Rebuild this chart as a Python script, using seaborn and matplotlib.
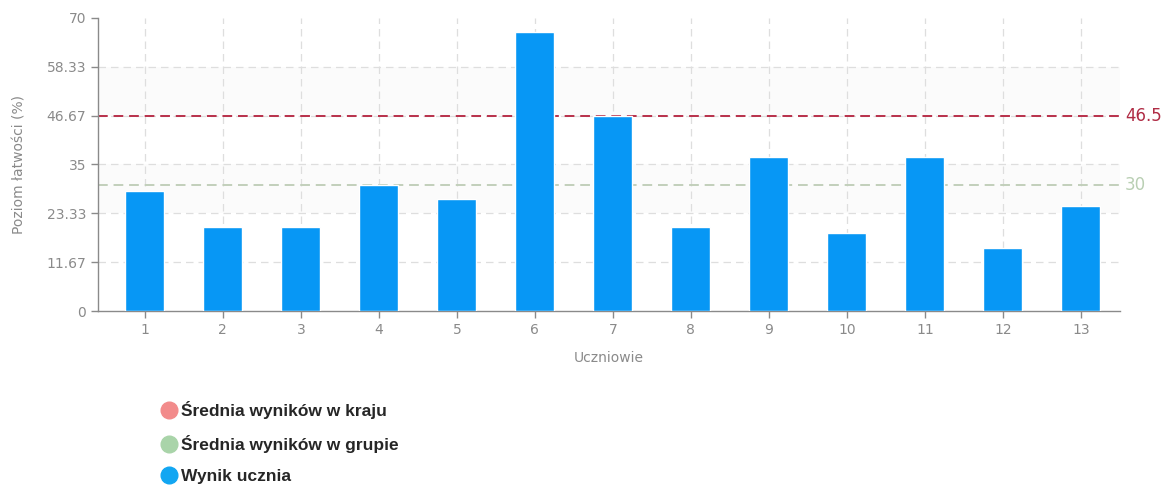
import matplotlib
matplotlib.use("Agg")
import matplotlib.pyplot as plt
from matplotlib.lines import Line2D
import numpy as np
import pandas as pd
import seaborn as sns

# dane
uczniowie = ["1", "2", "3", "4", "5", "6", "7", "8", "9", "10", "11", "12", "13"]
wyniki = [28.6, 20.0, 20.0, 30.0, 26.7, 66.7, 46.7, 20.0, 36.7, 18.6, 36.7, 15.0, 25.0]
srednia_kraj = 46.5
srednia_grupa = 30
y_ticks = [0, 11.67, 23.33, 35, 46.67, 58.33, 70]
legend_labels = ["Średnia wyników w kraju", "Średnia wyników w grupie", "Wynik ucznia"]

sns.set_style("white")
plt.rcParams["font.family"] = ["DejaVu Sans"]

df = pd.DataFrame({"uczen": uczniowie, "wynik": wyniki})

fig = plt.figure(figsize=(11.72, 4.95), dpi=100)
ax = fig.add_axes([0.0836, 0.3717, 0.872, 0.592])

# delikatne pasy tła
ax.axhspan(y_ticks[2], y_ticks[3], color="#fbfbfb", zorder=0, lw=0)
ax.axhspan(y_ticks[4], y_ticks[5], color="#fbfbfb", zorder=0, lw=0)

sns.barplot(data=df, x="uczen", y="wynik", color="#0797f5", width=0.5,
            saturation=1, ax=ax, zorder=3)

ax.set_xlim(-0.6, 12.5)
ax.set_ylim(0, 70)
ax.set_yticks(y_ticks)
ax.set_yticklabels([f"{t:g}" for t in y_ticks])

grid_kw = dict(color="#dedede", lw=0.9, ls=(0, (6, 4)), zorder=1)
for t in y_ticks[1:-1]:
    ax.axhline(t, **grid_kw)
for i in range(len(uczniowie)):
    ax.axvline(i, **grid_kw)

# linie średnich
ax.axhline(srednia_kraj, color="#b8304a", lw=1.4, ls=(0, (5, 3)), zorder=2)
ax.axhline(srednia_grupa, color="#c2cfbb", lw=1.4, ls=(0, (5, 3)), zorder=2)
ax.text(1.005, srednia_kraj, f"{srednia_kraj:g}", transform=ax.get_yaxis_transform(),
        color="#b02c45", fontsize=12, va="center", ha="left")
ax.text(1.005, srednia_grupa, f"{srednia_grupa:g}", transform=ax.get_yaxis_transform(),
        color="#b9cfb3", fontsize=12, va="center", ha="left")

for s in ["top", "right"]:
    ax.spines[s].set_visible(False)
for s in ["left", "bottom"]:
    ax.spines[s].set_color("#8a8a8a")
    ax.spines[s].set_linewidth(1)

ax.tick_params(axis="both", colors="#8a8a8a", labelcolor="#8a8a8a", labelsize=10,
               length=5, width=1, direction="out", left=True, bottom=True)
ax.set_xlabel("Uczniowie", color="#8a8a8a", fontsize=10, labelpad=10)
ax.set_ylabel("Poziom łatwości (%)", color="#8a8a8a", fontsize=10, labelpad=14)

handles = [
    Line2D([], [], marker="o", ls="", markersize=12, color="#f28b8b"),
    Line2D([], [], marker="o", ls="", markersize=12, color="#a9d4a9"),
    Line2D([], [], marker="o", ls="", markersize=12, color="#12a6f2"),
]
fig.legend(handles, legend_labels, loc="upper left", bbox_to_anchor=(0.135, 0.19),
           frameon=False, handletextpad=0.1, labelspacing=0.92, handlelength=1.2,
           prop={"family": "Liberation Sans", "weight": "bold", "size": 12.5},
           borderaxespad=0, borderpad=0)

fig.savefig("out.png", dpi=100, facecolor="white")
